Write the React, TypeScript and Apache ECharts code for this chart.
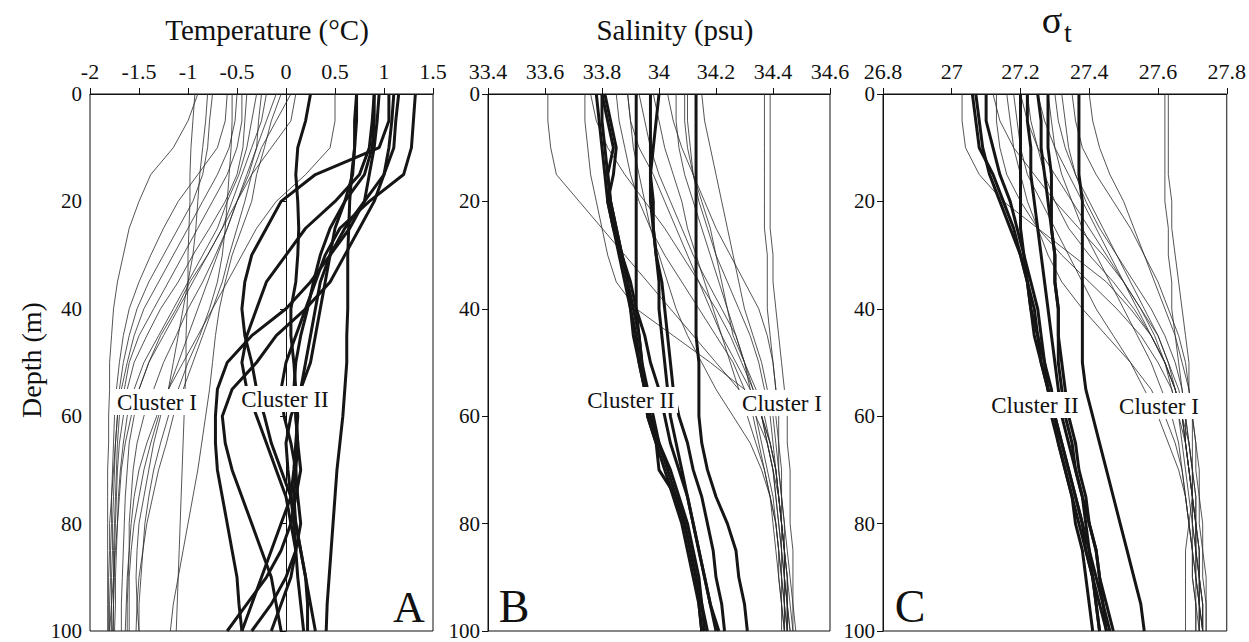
import React, { useEffect, useRef } from "react";
import * as echarts from "echarts";

const DEPTHS = [0, 5, 10, 15, 20, 25, 30, 35, 40, 45, 50, 55, 60, 65, 70, 75, 80, 85, 90, 95, 100];

// Temperature (°C) profiles
const TEMP_CLUSTER_I = [
  [-0.93, -0.95, -0.97, -0.98, -0.98, -0.99, -1.0, -1.0, -1.01, -1.02, -1.02, -1.03, -1.04, -1.05, -1.06, -1.07, -1.08, -1.09, -1.1, -1.11, -1.12],
  [-0.8, -0.82, -0.85, -0.88, -0.9, -0.92, -0.95, -1.0, -1.05, -1.1, -1.15, -1.2, -1.28, -1.35, -1.4, -1.45, -1.5, -1.52, -1.53, -1.52, -1.5],
  [-0.9, -1.0, -1.15, -1.38, -1.5, -1.6, -1.66, -1.72, -1.76, -1.78, -1.8, -1.8, -1.81, -1.81, -1.82, -1.82, -1.82, -1.82, -1.82, -1.82, -1.82],
  [-0.6, -0.62, -0.7, -0.9, -1.1, -1.25, -1.38, -1.5, -1.6, -1.66, -1.7, -1.73, -1.75, -1.76, -1.77, -1.78, -1.78, -1.79, -1.79, -1.8, -1.8],
  [-0.5, -0.52, -0.58, -0.7, -0.85, -1.0, -1.15, -1.3, -1.45, -1.55, -1.62, -1.68, -1.72, -1.74, -1.75, -1.76, -1.77, -1.77, -1.78, -1.78, -1.78],
  [-0.45, -0.45, -0.5, -0.6, -0.75, -0.9, -1.05, -1.2, -1.35, -1.5, -1.6, -1.65, -1.7, -1.72, -1.73, -1.74, -1.75, -1.76, -1.76, -1.76, -1.77],
  [-0.4, -0.42, -0.44, -0.5, -0.62, -0.78, -0.95, -1.1, -1.28, -1.42, -1.55, -1.62, -1.66, -1.7, -1.72, -1.73, -1.74, -1.75, -1.75, -1.76, -1.76],
  [-0.3, -0.35, -0.4, -0.48, -0.6, -0.7, -0.85, -1.0, -1.15, -1.3, -1.45, -1.55, -1.62, -1.66, -1.69, -1.71, -1.72, -1.73, -1.74, -1.74, -1.75],
  [-0.2, -0.25, -0.35, -0.45, -0.55, -0.65, -0.8, -0.95, -1.1, -1.25, -1.4, -1.5, -1.55, -1.6, -1.62, -1.64, -1.65, -1.66, -1.67, -1.68, -1.68],
  [-0.1, -0.2, -0.3, -0.4, -0.5, -0.6, -0.72, -0.85, -1.0, -1.12, -1.25, -1.35, -1.45, -1.52, -1.56, -1.58, -1.6, -1.6, -1.61, -1.62, -1.62],
  [0.05, -0.1, -0.25, -0.35, -0.42, -0.5, -0.58, -0.65, -0.75, -0.85, -0.95, -1.05, -1.15, -1.22, -1.3, -1.36, -1.42, -1.46, -1.5, -1.52, -1.53],
  [-0.05, -0.15, -0.22, -0.3, -0.35, -0.45, -0.55, -0.62, -0.68, -0.72, -0.75, -0.78, -0.82, -0.86, -0.9, -0.95, -1.0, -1.05, -1.1, -1.15, -1.18],
  [0.1, 0.05, -0.15, -0.35, -0.5, -0.6, -0.7, -0.8, -0.9, -1.0, -1.1, -1.2, -1.3, -1.38, -1.45, -1.5, -1.55, -1.58, -1.6, -1.6, -1.6],
  [-0.25, -0.28, -0.3, -0.38, -0.5, -0.65, -0.8, -0.98, -1.12, -1.28, -1.4, -1.5, -1.58, -1.64, -1.68, -1.7, -1.72, -1.74, -1.76, -1.78, -1.8],
  [-0.75, -0.78, -0.8, -0.85, -0.95, -1.1, -1.25, -1.4, -1.52, -1.6, -1.66, -1.7, -1.72, -1.74, -1.76, -1.78, -1.8, -1.8, -1.81, -1.81, -1.81],
  [0.5, 0.5, 0.45, 0.2, -0.1, -0.3, -0.45, -0.6, -0.75, -0.9, -1.05, -1.2, -1.32, -1.42, -1.5, -1.55, -1.58, -1.6, -1.62, -1.63, -1.64],
  [-0.55, -0.55, -0.56, -0.58, -0.6, -0.62, -0.65, -0.7, -0.78, -0.88, -1.0, -1.1, -1.2, -1.28, -1.35, -1.4, -1.44, -1.46, -1.48, -1.5, -1.5],
];
const TEMP_CLUSTER_II = [
  [0.72, 0.72, 0.7, 0.67, 0.65, 0.64, 0.63, 0.63, 0.63, 0.62, 0.62, 0.6, 0.58, 0.55, 0.52, 0.5, 0.48, 0.46, 0.44, 0.42, 0.41],
  [0.25, 0.2, 0.12, 0.1, 0.12, 0.13, 0.12, 0.1, 0.05, 0.05, 0.08, 0.1, 0.12, 0.1, 0.08, 0.05, -0.05, -0.15, -0.25, -0.35, -0.45],
  [0.9, 0.9, 0.88, 0.8, 0.6, 0.45, 0.35, 0.28, 0.22, 0.15, 0.1, 0.08, 0.1, 0.12, 0.1, 0.08, 0.1, 0.15, 0.2, 0.22, 0.22],
  [1.05, 1.05, 0.95, 0.3, -0.05, -0.2, -0.35, -0.42, -0.45, -0.42, -0.35, -0.3, -0.22, -0.15, -0.05, 0.05, 0.1, 0.15, 0.2, 0.25, 0.3],
  [1.32, 1.3, 1.28, 1.2, 0.85, 0.55, 0.4, 0.3, 0.2, 0.1, 0.0, -0.05, -0.02, 0.05, 0.1, 0.12, 0.15, 0.1, 0.0, -0.15, -0.35],
  [1.1, 1.08, 1.05, 1.0, 0.9, 0.75, 0.6, 0.45, 0.2, -0.1, -0.3, -0.55, -0.65, -0.62, -0.55, -0.45, -0.35, -0.25, -0.15, -0.1, -0.05],
  [0.95, 0.93, 0.9, 0.85, 0.8, 0.65, 0.45, 0.25, 0.0, -0.35, -0.6, -0.7, -0.72, -0.72, -0.7, -0.65, -0.6, -0.55, -0.5, -0.48, -0.45],
  [0.9, 0.88, 0.85, 0.75, 0.5, 0.2, 0.0, -0.2, -0.3, -0.4, -0.45, -0.4, -0.3, -0.2, -0.1, 0.0, 0.05, 0.1, 0.05, -0.05, -0.15],
  [1.15, 1.12, 1.1, 1.0, 0.8, 0.6, 0.45, 0.35, 0.3, 0.25, 0.2, 0.15, 0.1, 0.12, 0.15, 0.1, 0.05, -0.05, -0.2, -0.4, -0.6],
  [0.72, 0.7, 0.7, 0.68, 0.6, 0.5, 0.45, 0.4, 0.35, 0.3, 0.25, 0.15, 0.05, 0.0, 0.02, 0.05, 0.08, 0.1, 0.12, 0.15, 0.18],
];

// Salinity (psu) profiles
const SAL_CLUSTER_I = [
  [33.61, 33.61, 33.62, 33.64, 33.72, 33.8, 33.88, 33.96, 34.04, 34.12, 34.2, 34.28, 34.34, 34.38, 34.4, 34.42, 34.43, 34.44, 34.44, 34.45, 34.45],
  [33.74, 33.74, 33.75, 33.76, 33.78, 33.8, 33.82, 33.85, 33.92, 34.05, 34.18, 34.3, 34.36, 34.39, 34.41, 34.42, 34.43, 34.44, 34.45, 34.45, 34.46],
  [33.89, 33.9, 33.93, 33.98, 34.02, 34.06, 34.1, 34.14, 34.18, 34.22, 34.27, 34.32, 34.36, 34.39, 34.41, 34.42, 34.43, 34.44, 34.44, 34.45, 34.45],
  [33.89, 33.9, 33.91, 33.93, 33.95, 33.97, 34.0, 34.03, 34.06, 34.1, 34.15, 34.2, 34.26, 34.32, 34.36, 34.39, 34.41, 34.42, 34.43, 34.44, 34.44],
  [34.03, 34.05, 34.08, 34.12, 34.15, 34.18, 34.2, 34.22, 34.24, 34.26, 34.3, 34.34, 34.37, 34.39, 34.41, 34.42, 34.43, 34.43, 34.44, 34.44, 34.45],
  [34.09, 34.09, 34.1, 34.12, 34.16, 34.2, 34.25, 34.3, 34.35, 34.38, 34.4, 34.41, 34.42, 34.42, 34.43, 34.43, 34.44, 34.44, 34.45, 34.45, 34.46],
  [34.1, 34.1, 34.11, 34.12, 34.14, 34.17, 34.2, 34.24, 34.28, 34.32, 34.35, 34.37, 34.39, 34.4, 34.41, 34.42, 34.43, 34.44, 34.45, 34.46, 34.47],
  [34.15, 34.16, 34.18, 34.2, 34.22, 34.24, 34.26, 34.28, 34.3, 34.33, 34.36, 34.38, 34.4, 34.41, 34.42, 34.43, 34.44, 34.45, 34.46, 34.47, 34.48],
  [34.37, 34.37, 34.37, 34.37, 34.37, 34.37, 34.38, 34.38, 34.38, 34.39, 34.4, 34.41, 34.41, 34.42, 34.42, 34.43, 34.43, 34.44, 34.44, 34.45, 34.45],
  [34.39, 34.39, 34.39, 34.39, 34.39, 34.39, 34.4, 34.4, 34.41, 34.42, 34.43, 34.44, 34.45, 34.45, 34.46, 34.46, 34.46, 34.47, 34.47, 34.47, 34.47],
  [33.93, 33.95, 33.97, 34.0, 34.04, 34.08, 34.12, 34.17, 34.22, 34.27, 34.3, 34.33, 34.36, 34.38, 34.4, 34.41, 34.42, 34.43, 34.43, 34.44, 34.44],
  [33.98, 34.0, 34.02, 34.05, 34.08, 34.1, 34.13, 34.16, 34.19, 34.22, 34.25, 34.28, 34.31, 34.34, 34.37, 34.39, 34.41, 34.42, 34.43, 34.43, 34.44],
  [34.06, 34.06, 34.07, 34.09, 34.12, 34.15, 34.18, 34.21, 34.24, 34.27, 34.3, 34.32, 34.34, 34.36, 34.38, 34.4, 34.41, 34.42, 34.42, 34.43, 34.43],
  [33.76, 33.78, 33.82, 33.88, 33.95, 34.02, 34.08, 34.14, 34.2, 34.25, 34.29, 34.33, 34.36, 34.38, 34.4, 34.41, 34.42, 34.43, 34.44, 34.44, 34.45],
  [33.85, 33.86, 33.88, 33.9, 33.93, 33.97, 34.02, 34.08, 34.14, 34.2, 34.26, 34.3, 34.33, 34.35, 34.37, 34.39, 34.4, 34.41, 34.42, 34.43, 34.44],
];
const SAL_CLUSTER_II = [
  [34.13, 34.13, 34.13, 34.13, 34.13, 34.13, 34.13, 34.13, 34.13, 34.13, 34.14, 34.14, 34.14, 34.15, 34.17, 34.2, 34.24, 34.27, 34.28, 34.3, 34.31],
  [33.78, 33.79, 33.8, 33.81, 33.82, 33.84, 33.86, 33.88, 33.9, 33.92, 33.93, 33.95, 33.96, 33.99, 34.02, 34.05, 34.08, 34.1, 34.12, 34.14, 34.15],
  [33.8, 33.82, 33.84, 33.82, 33.83, 33.85, 33.87, 33.89, 33.9, 33.91, 33.93, 33.95, 33.97, 34.0, 34.03, 34.06, 34.09, 34.11, 34.13, 34.14, 34.15],
  [33.81, 33.83, 33.85, 33.84, 33.82, 33.84, 33.87, 33.9, 33.92, 33.95, 33.97, 34.0, 34.02, 34.04, 34.07, 34.1, 34.12, 34.14, 34.16, 34.18, 34.2],
  [33.92, 33.92, 33.92, 33.92, 33.92, 33.92, 33.92, 33.92, 33.92, 33.93, 33.94, 33.96, 33.98, 34.0, 34.04, 34.07, 34.1, 34.12, 34.14, 34.15, 34.16],
  [33.97, 33.97, 33.97, 33.97, 33.98, 33.98, 33.99, 34.0, 34.0, 34.01, 34.02, 34.03, 34.04, 34.06, 34.08, 34.1, 34.12, 34.14, 34.16, 34.18, 34.21],
  [34.0, 33.99, 33.98, 33.97, 33.97, 33.98, 33.99, 34.01, 34.02, 34.03, 34.04, 34.05, 34.07, 34.1, 34.12, 34.15, 34.17, 34.19, 34.2, 34.22, 34.23],
  [33.8, 33.8, 33.81, 33.82, 33.83, 33.85, 33.87, 33.89, 33.91, 33.93, 33.94, 33.95, 33.96, 33.99, 34.0, 34.06, 34.09, 34.11, 34.13, 34.15, 34.17],
];

// Sigma-t profiles
const SIG_CLUSTER_I = [
  [27.03, 27.03, 27.04, 27.08, 27.15, 27.25, 27.35, 27.45, 27.52, 27.58, 27.62, 27.65, 27.67, 27.69, 27.7, 27.71, 27.71, 27.72, 27.72, 27.73, 27.73],
  [27.13, 27.13, 27.14, 27.16, 27.2, 27.25, 27.32, 27.4, 27.48, 27.55, 27.6, 27.64, 27.66, 27.68, 27.69, 27.7, 27.71, 27.71, 27.72, 27.72, 27.73],
  [27.16, 27.17, 27.18, 27.2, 27.22, 27.25, 27.28, 27.32, 27.38, 27.45, 27.52, 27.58, 27.62, 27.65, 27.67, 27.68, 27.69, 27.7, 27.7, 27.71, 27.71],
  [27.25, 27.27, 27.3, 27.34, 27.38, 27.42, 27.46, 27.5, 27.54, 27.58, 27.62, 27.65, 27.67, 27.68, 27.69, 27.7, 27.7, 27.71, 27.71, 27.72, 27.72],
  [27.3, 27.31, 27.33, 27.36, 27.4, 27.44, 27.48, 27.52, 27.56, 27.6, 27.63, 27.65, 27.67, 27.68, 27.69, 27.7, 27.71, 27.71, 27.72, 27.72, 27.73],
  [27.32, 27.33, 27.34, 27.36, 27.39, 27.43, 27.48, 27.53, 27.58, 27.62, 27.65, 27.67, 27.68, 27.69, 27.7, 27.7, 27.71, 27.72, 27.72, 27.73, 27.73],
  [27.35, 27.36, 27.38, 27.42, 27.47, 27.52, 27.56, 27.6, 27.63, 27.66, 27.68, 27.69, 27.7, 27.71, 27.71, 27.72, 27.72, 27.73, 27.73, 27.74, 27.74],
  [27.4, 27.41, 27.43, 27.46, 27.5, 27.53, 27.56, 27.59, 27.62, 27.65, 27.67, 27.69, 27.7, 27.71, 27.72, 27.72, 27.73, 27.73, 27.74, 27.74, 27.74],
  [27.62, 27.62, 27.62, 27.62, 27.62, 27.63, 27.63, 27.64, 27.64, 27.65, 27.66, 27.67, 27.68, 27.68, 27.69, 27.7, 27.7, 27.71, 27.71, 27.72, 27.72],
  [27.63, 27.63, 27.63, 27.63, 27.64, 27.64, 27.65, 27.66, 27.67, 27.68, 27.69, 27.69, 27.7, 27.7, 27.7, 27.7, 27.69, 27.68, 27.68, 27.68, 27.68],
  [27.2, 27.22, 27.25, 27.3, 27.35, 27.4, 27.45, 27.5, 27.55, 27.59, 27.62, 27.64, 27.66, 27.67, 27.68, 27.69, 27.7, 27.7, 27.71, 27.71, 27.72],
  [27.28, 27.29, 27.3, 27.32, 27.35, 27.38, 27.42, 27.46, 27.5, 27.54, 27.58, 27.61, 27.64, 27.66, 27.67, 27.68, 27.69, 27.7, 27.7, 27.71, 27.71],
  [27.18, 27.19, 27.2, 27.22, 27.26, 27.3, 27.34, 27.38, 27.42, 27.47, 27.52, 27.56, 27.6, 27.63, 27.66, 27.68, 27.69, 27.7, 27.71, 27.72, 27.72],
  [27.12, 27.14, 27.18, 27.24, 27.3, 27.37, 27.44, 27.5, 27.55, 27.6, 27.63, 27.66, 27.68, 27.69, 27.7, 27.71, 27.71, 27.72, 27.72, 27.73, 27.73],
  [27.22, 27.23, 27.25, 27.27, 27.3, 27.34, 27.4, 27.47, 27.53, 27.58, 27.62, 27.65, 27.67, 27.68, 27.69, 27.7, 27.71, 27.71, 27.72, 27.72, 27.73],
];
const SIG_CLUSTER_II = [
  [27.37, 27.37, 27.37, 27.37, 27.38, 27.38, 27.38, 27.38, 27.38, 27.38, 27.38, 27.39, 27.41, 27.43, 27.45, 27.47, 27.49, 27.51, 27.53, 27.55, 27.56],
  [27.06, 27.07, 27.08, 27.12, 27.15, 27.18, 27.2, 27.22, 27.24, 27.25, 27.26, 27.28, 27.29, 27.31, 27.33, 27.35, 27.36, 27.38, 27.39, 27.4, 27.41],
  [27.1, 27.1, 27.12, 27.14, 27.17, 27.19, 27.21, 27.23, 27.25, 27.26, 27.27, 27.29, 27.3, 27.32, 27.34, 27.36, 27.38, 27.39, 27.41, 27.42, 27.43],
  [27.07, 27.08, 27.09, 27.11, 27.14, 27.17, 27.2, 27.22, 27.23, 27.25, 27.27, 27.28, 27.3, 27.31, 27.33, 27.35, 27.37, 27.39, 27.41, 27.43, 27.45],
  [27.2, 27.2, 27.2, 27.2, 27.2, 27.2, 27.21, 27.22, 27.23, 27.24, 27.26, 27.28, 27.3, 27.32, 27.34, 27.36, 27.38, 27.4, 27.42, 27.44, 27.46],
  [27.22, 27.22, 27.23, 27.23, 27.24, 27.25, 27.26, 27.27, 27.28, 27.29, 27.3, 27.31, 27.32, 27.34, 27.36, 27.38, 27.4, 27.42, 27.43, 27.45, 27.47],
  [27.28, 27.28, 27.28, 27.29, 27.29, 27.29, 27.3, 27.3, 27.31, 27.31, 27.32, 27.33, 27.34, 27.36, 27.37, 27.39, 27.4, 27.42, 27.43, 27.44, 27.45],
  [27.25, 27.26, 27.26, 27.27, 27.28, 27.29, 27.3, 27.3, 27.31, 27.31, 27.31, 27.32, 27.33, 27.35, 27.36, 27.38, 27.39, 27.4, 27.41, 27.42, 27.43],
];

const FONT = '"Times New Roman", "Liberation Serif", Times, serif';
const INK = "#111";

const PANELS = [
  { min: -2, max: 1.5, interval: 0.5, left: 90, width: 343, c1: TEMP_CLUSTER_I, c2: TEMP_CLUSTER_II },
  { min: 33.4, max: 34.6, interval: 0.2, left: 488, width: 342, c1: SAL_CLUSTER_I, c2: SAL_CLUSTER_II },
  { min: 26.8, max: 27.8, interval: 0.2, left: 883, width: 345, c1: SIG_CLUSTER_I, c2: SIG_CLUSTER_II },
];

const GRID_TOP = 94;
const GRID_HEIGHT = 537;

function toPoints(vals: number[]) {
  return vals.map((v, i) => [v, DEPTHS[i]]);
}

function txt(x: number, y: number, text: string, size: number, extra: any = {}) {
  const { style: extraStyle, ...rest } = extra;
  return {
    type: "text",
    x,
    y,
    z: 100,
    ...rest,
    style: {
      text,
      font: `${size}px ${FONT}`,
      fontFamily: FONT,
      fontSize: size,
      fill: INK,
      textAlign: "center",
      textVerticalAlign: "middle",
      ...(extraStyle || {}),
    },
  };
}

function labelBox(cx: number, cy: number, text: string, w: number) {
  return [
    {
      type: "rect",
      z: 99,
      shape: { x: cx - w / 2, y: cy - 13, width: w, height: 26 },
      style: { fill: "#ffffff", stroke: "none" },
    },
    txt(cx, cy, text, 23),
  ];
}

export default function App() {
  const ref = useRef<HTMLDivElement>(null);
  useEffect(() => {
    if (!ref.current) return;
    const chart = echarts.init(ref.current, undefined, { renderer: "svg" });
    const grid: any[] = [];
    const xAxis: any[] = [];
    const yAxis: any[] = [];
    const series: any[] = [];
    PANELS.forEach((p, idx) => {
      grid.push({
        left: p.left,
        top: GRID_TOP,
        width: p.width,
        height: GRID_HEIGHT,
        show: true,
        borderColor: INK,
        borderWidth: 1,
        backgroundColor: "transparent",
      });
      xAxis.push({
        type: "value",
        gridIndex: idx,
        position: "top",
        min: p.min,
        max: p.max,
        interval: p.interval,
        axisLine: { show: true, lineStyle: { color: INK, width: 1 } },
        axisTick: { show: true, inside: false, length: 6, lineStyle: { color: INK } },
        splitLine: { show: false },
        axisLabel: {
          color: INK,
          fontFamily: FONT,
          fontSize: 22,
          margin: 12,
          formatter: (v: number) => String(parseFloat(v.toFixed(2))),
        },
      });
      yAxis.push({
        type: "value",
        gridIndex: idx,
        inverse: true,
        min: 0,
        max: 100,
        interval: 20,
        axisLine: { show: true, lineStyle: { color: INK, width: 1 } },
        axisTick: { show: true, inside: false, length: 6, lineStyle: { color: INK } },
        splitLine: { show: false },
        axisLabel: { color: INK, fontFamily: FONT, fontSize: 21, margin: 8 },
      });
      p.c1.forEach((vals) => {
        series.push({
          type: "line",
          xAxisIndex: idx,
          yAxisIndex: idx,
          data: toPoints(vals),
          showSymbol: false,
          symbol: "none",
          silent: true,
          lineStyle: { color: "#2a2a2a", width: 0.8 },
          z: 2,
        });
      });
      p.c2.forEach((vals) => {
        series.push({
          type: "line",
          xAxisIndex: idx,
          yAxisIndex: idx,
          data: toPoints(vals),
          showSymbol: false,
          symbol: "none",
          silent: true,
          lineStyle: { color: "#151515", width: 3 },
          z: 3,
        });
      });
    });

    const graphic: any[] = [
      txt(267, 30, "Temperature (°C)", 29),
      txt(675, 30, "Salinity (psu)", 29),
      txt(1052, 20, "σ", 38),
      txt(1068, 32, "t", 28),
      txt(31, 360, "Depth (m)", 28, { rotation: Math.PI / 2 }),
      txt(409, 607, "A", 44),
      txt(514, 606, "B", 46),
      txt(910, 606, "C", 46),
      ...labelBox(157, 402, "Cluster I", 88),
      ...labelBox(285, 399, "Cluster II", 94),
      ...labelBox(631, 400, "Cluster II", 94),
      ...labelBox(782, 403, "Cluster I", 88),
      ...labelBox(1035, 405, "Cluster II", 94),
      ...labelBox(1159, 406, "Cluster I", 88),
    ];

    chart.setOption({
      animation: false,
      backgroundColor: "#fff",
      textStyle: { fontFamily: FONT },
      grid,
      xAxis,
      yAxis,
      series,
      graphic: { elements: graphic },
    });
    return () => chart.dispose();
  }, []);
  return (
    <div
      ref={ref}
      style={{ position: "fixed", left: 0, top: 0, width: 1249, height: 642, background: "#fff", fontFamily: "serif" }}
    />
  );
}
